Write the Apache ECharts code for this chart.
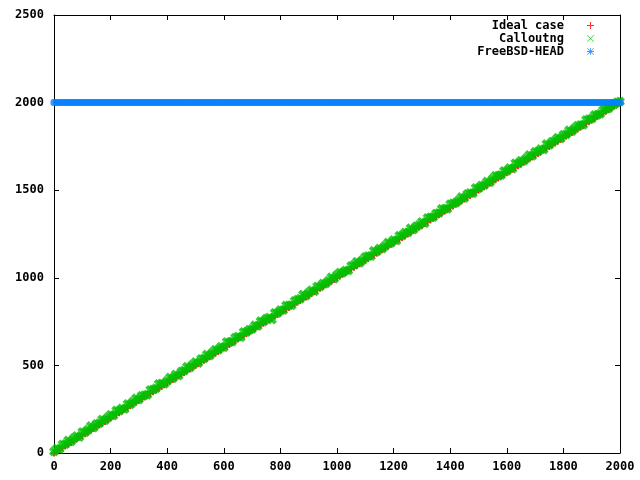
<!DOCTYPE html>
<html>
<head>
<meta charset="utf-8">
<script src="https://cdn.jsdelivr.net/npm/echarts@6/dist/echarts.min.js"></script>
<style>html,body{margin:0;padding:0;background:#fff}#c{width:640px;height:480px}</style>
</head>
<body>
<div id="c"></div>
<script>
var seriesNames = ['Ideal case', 'Calloutng', 'FreeBSD-HEAD'];
var xTicks = [0, 200, 400, 600, 800, 1000, 1200, 1400, 1600, 1800, 2000];
var yTicks = [0, 500, 1000, 1500, 2000, 2500];

var xValues = [0,10,20,30,40,50,60,70,80,90,100,110,120,130,140,150,160,170,180,190,
200,210,220,230,240,250,260,270,280,290,300,310,320,330,340,350,360,370,380,390,
400,410,420,430,440,450,460,470,480,490,500,510,520,530,540,550,560,570,580,590,
600,610,620,630,640,650,660,670,680,690,700,710,720,730,740,750,760,770,780,790,
800,810,820,830,840,850,860,870,880,890,900,910,920,930,940,950,960,970,980,990,
1000,1010,1020,1030,1040,1050,1060,1070,1080,1090,1100,1110,1120,1130,1140,1150,1160,1170,1180,1190,
1200,1210,1220,1230,1240,1250,1260,1270,1280,1290,1300,1310,1320,1330,1340,1350,1360,1370,1380,1390,
1400,1410,1420,1430,1440,1450,1460,1470,1480,1490,1500,1510,1520,1530,1540,1550,1560,1570,1580,1590,
1600,1610,1620,1630,1640,1650,1660,1670,1680,1690,1700,1710,1720,1730,1740,1750,1760,1770,1780,1790,
1800,1810,1820,1830,1840,1850,1860,1870,1880,1890,1900,1910,1920,1930,1940,1950,1960,1970,1980,1990,2000];

var idealY = [0,10,20,30,40,50,60,70,80,90,100,110,120,130,140,150,160,170,180,190,
200,210,220,230,240,250,260,270,280,290,300,310,320,330,340,350,360,370,380,390,
400,410,420,430,440,450,460,470,480,490,500,510,520,530,540,550,560,570,580,590,
600,610,620,630,640,650,660,670,680,690,700,710,720,730,740,750,760,770,780,790,
800,810,820,830,840,850,860,870,880,890,900,910,920,930,940,950,960,970,980,990,
1000,1010,1020,1030,1040,1050,1060,1070,1080,1090,1100,1110,1120,1130,1140,1150,1160,1170,1180,1190,
1200,1210,1220,1230,1240,1250,1260,1270,1280,1290,1300,1310,1320,1330,1340,1350,1360,1370,1380,1390,
1400,1410,1420,1430,1440,1450,1460,1470,1480,1490,1500,1510,1520,1530,1540,1550,1560,1570,1580,1590,
1600,1610,1620,1630,1640,1650,1660,1670,1680,1690,1700,1710,1720,1730,1740,1750,1760,1770,1780,1790,
1800,1810,1820,1830,1840,1850,1860,1870,1880,1890,1900,1910,1920,1930,1940,1950,1960,1970,1980,1990,2000];

var calloutY = [8,25,23,49,51,72,66,84,97,92,120,119,133,154,145,166,170,191,187,202,
218,214,243,241,255,251,279,278,294,312,306,327,330,333,360,363,369,394,396,395,
412,431,427,448,442,465,471,493,488,504,519,514,537,540,562,556,573,590,589,606,
603,634,632,637,658,665,661,691,691,704,708,729,725,753,750,767,773,762,800,799,
816,816,842,842,844,868,875,881,904,897,914,929,923,951,950,967,968,983,1003,995,
1016,1030,1029,1042,1042,1068,1074,1092,1086,1101,1119,1125,1124,1154,1150,1167,1167,1183,1201,1198,
1216,1213,1240,1242,1258,1259,1283,1275,1294,1301,1319,1311,1342,1345,1347,1367,1370,1394,1393,1394,
1420,1426,1428,1442,1461,1456,1478,1484,1482,1513,1511,1527,1529,1549,1545,1565,1582,1583,1587,1610,
1610,1626,1623,1654,1652,1668,1668,1684,1701,1696,1719,1721,1735,1732,1763,1759,1777,1783,1800,1795,
1816,1820,1842,1837,1854,1868,1872,1874,1901,1905,1909,1929,1931,1936,1957,1963,1968,1985,1990,2002,2006];

var headY = [2000,2000,2000,2000,2000,2000,2000,2000,2000,2000,2000,2000,2000,2000,2000,2000,2000,2000,2000,2000,
2000,2000,2000,2000,2000,2000,2000,2000,2000,2000,2000,2000,2000,2000,2000,2000,2000,2000,2000,2000,
2000,2000,2000,2000,2000,2000,2000,2000,2000,2000,2000,2000,2000,2000,2000,2000,2000,2000,2000,2000,
2000,2000,2000,2000,2000,2000,2000,2000,2000,2000,2000,2000,2000,2000,2000,2000,2000,2000,2000,2000,
2000,2000,2000,2000,2000,2000,2000,2000,2000,2000,2000,2000,2000,2000,2000,2000,2000,2000,2000,2000,
2000,2000,2000,2000,2000,2000,2000,2000,2000,2000,2000,2000,2000,2000,2000,2000,2000,2000,2000,2000,
2000,2000,2000,2000,2000,2000,2000,2000,2000,2000,2000,2000,2000,2000,2000,2000,2000,2000,2000,2000,
2000,2000,2000,2000,2000,2000,2000,2000,2000,2000,2000,2000,2000,2000,2000,2000,2000,2000,2000,2000,
2000,2000,2000,2000,2000,2000,2000,2000,2000,2000,2000,2000,2000,2000,2000,2000,2000,2000,2000,2000,
2000,2000,2000,2000,2000,2000,2000,2000,2000,2000,2000,2000,2000,2000,2000,2000,2000,2000,2000,2000,2000];

var colors = ['#ff0000', '#00c000', '#0080ff'];

function pairs(xs, ys) {
  var out = [];
  for (var i = 0; i < xs.length; i++) out.push([xs[i], ys[i]]);
  return out;
}

// marker shapes drawn densely in the plot (thick strokes so the dense runs merge like the reference)
var PLUS = 'path://M0,5H14V9H0Z M5,0H9V14H5Z';
var CROSS = 'path://M0,4L4,0L14,10L10,14Z M10,0L14,4L4,14L0,10Z';
var STAR = 'path://M0,4H14V10H0Z M4,0H10V14H4Z M0,3L3,0L14,11L11,14Z M11,0L14,3L3,14L0,11Z';
// thin versions for the key
var PLUS_THIN = 'path://M0,6H14V8H0Z M6,0H8V14H6Z';
var CROSS_THIN = 'path://M0,1L1,0L14,13L13,14Z M13,0L14,1L1,14L0,13Z';
var STAR_THIN = 'path://M0,6.2H14V7.8H0Z M6.2,0H7.8V14H6.2Z M0,1L1,0L14,13L13,14Z M13,0L14,1L1,14L0,13Z';

var font = '"DejaVu Sans Mono", "Liberation Mono", monospace';
var labelStyle = { color: '#000', fontFamily: font, fontWeight: 'bold', fontSize: 12,
  formatter: function (v) { return String(v); } };

function makeAxis(base) {
  return Object.assign({
    type: 'value',
    axisLine: { show: true, onZero: false, lineStyle: { color: '#000', width: 1 } },
    axisTick: { show: true, inside: true, length: 5, lineStyle: { color: '#000', width: 1 } },
    splitLine: { show: false },
    minorTick: { show: false }
  }, base);
}

var chart = echarts.init(document.getElementById('c'), null, { renderer: 'canvas' });
chart.setOption({
  animation: false,
  backgroundColor: '#fff',
  grid: { left: 54, right: 20, top: 15, bottom: 27, containLabel: false },
  legend: {
    orient: 'vertical',
    right: 41,
    top: 14,
    align: 'right',
    itemGap: 0,
    itemWidth: 7,
    itemHeight: 7,
    selectedMode: false,
    textStyle: { color: '#000', fontFamily: font, fontWeight: 'bold', fontSize: 12, lineHeight: 13, padding: [0, 18, 0, 0] },
    data: [
      { name: seriesNames[0], icon: PLUS_THIN, itemStyle: { color: colors[0] } },
      { name: seriesNames[1], icon: CROSS_THIN, itemStyle: { color: colors[1] } },
      { name: seriesNames[2], icon: STAR_THIN, itemStyle: { color: colors[2] } }
    ]
  },
  xAxis: [
    makeAxis({ position: 'bottom', min: xTicks[0], max: xTicks[xTicks.length - 1], interval: xTicks[1] - xTicks[0],
      axisLabel: Object.assign({ margin: 8 }, labelStyle) }),
    makeAxis({ position: 'top', min: xTicks[0], max: xTicks[xTicks.length - 1], interval: xTicks[1] - xTicks[0],
      axisLabel: { show: false } })
  ],
  yAxis: [
    makeAxis({ position: 'left', min: yTicks[0], max: yTicks[yTicks.length - 1], interval: yTicks[1] - yTicks[0],
      axisLabel: Object.assign({ margin: 10 }, labelStyle) }),
    makeAxis({ position: 'right', min: yTicks[0], max: yTicks[yTicks.length - 1], interval: yTicks[1] - yTicks[0],
      axisLabel: { show: false } })
  ],
  series: [
    { name: seriesNames[0], type: 'scatter', symbol: PLUS, symbolSize: 7, itemStyle: { color: colors[0] },
      data: pairs(xValues, idealY), z: 2 },
    { name: seriesNames[1], type: 'scatter', symbol: CROSS, symbolSize: 10, itemStyle: { color: colors[1] },
      data: pairs(xValues, calloutY), z: 3 },
    { name: seriesNames[2], type: 'scatter', symbol: STAR, symbolSize: 7, itemStyle: { color: colors[2] },
      data: pairs(xValues, headY), z: 4 }
  ]
});
</script>
</body>
</html>
